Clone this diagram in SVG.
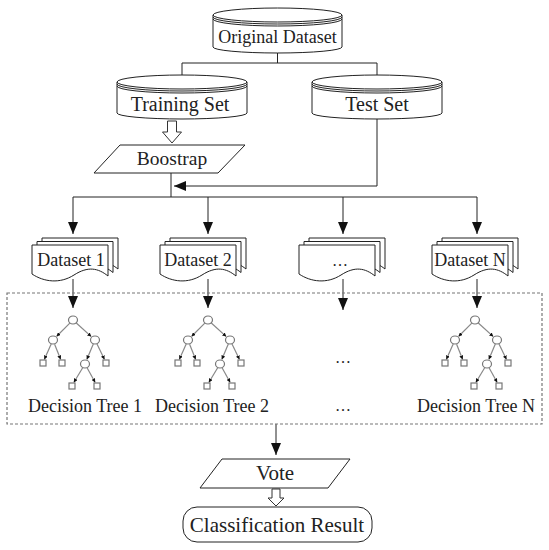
<svg xmlns="http://www.w3.org/2000/svg" xmlns:xlink="http://www.w3.org/1999/xlink" width="549" height="550" viewBox="0 0 549 550">
<style>
.sh{fill:#fff;stroke:#222;stroke-width:1}
.ln{fill:none;stroke:#222;stroke-width:1}
.ar{fill:none;stroke:#222;stroke-width:1;marker-end:url(#ah)}
.t{font-family:"Liberation Serif","Times New Roman",serif;fill:#222;text-anchor:middle}
.tn{fill:#fff;stroke:#777;stroke-width:1.2}
.te{fill:none;stroke:#888;stroke-width:1.2;marker-end:url(#sa)}
.hol{fill:#fff;stroke:#333;stroke-width:1}
</style>
<defs>
<marker id="ah" markerUnits="userSpaceOnUse" markerWidth="12" markerHeight="10" refX="12" refY="5" orient="auto">
<path d="M0,0 L12,5 L0,10 Z" fill="#111"/>
</marker>
<marker id="sa" markerUnits="userSpaceOnUse" markerWidth="4" markerHeight="4" refX="4" refY="2" orient="auto">
<path d="M0,0 L4,2 L0,4 Z" fill="#111"/>
</marker>
<path id="doc" d="M0,0 H76 V31 C66,23 56,21 42,30 C28,39 12,37 0,29 Z"/>
<g id="tree">
<path class="te" d="M-3.2,3.2 L-16.5,16.5"/>
<path class="te" d="M3.3,3 L18.3,16.6"/>
<path class="te" d="M-21.8,24.1 L-28.7,39.5"/>
<path class="te" d="M-18.4,24.2 L-12.3,39.5"/>
<path class="te" d="M20.3,24.1 L13.8,39.5"/>
<path class="te" d="M24,24.1 L31.5,39.5"/>
<path class="te" d="M9.7,47.8 L0.8,62.5"/>
<path class="te" d="M14.2,48 L22.2,62.5"/>
<ellipse class="tn" cx="0" cy="0" rx="4.5" ry="4"/>
<ellipse class="tn" cx="-20" cy="20" rx="4.5" ry="4"/>
<ellipse class="tn" cx="22" cy="20" rx="4.5" ry="4"/>
<ellipse class="tn" cx="12" cy="44" rx="4.5" ry="4"/>
<rect class="tn" x="-33" y="40" width="6" height="6"/>
<rect class="tn" x="-14" y="40" width="6" height="6"/>
<rect class="tn" x="30" y="40" width="6" height="6"/>
<rect class="tn" x="-4" y="63" width="6" height="6"/>
<rect class="tn" x="21" y="63" width="6" height="6"/>
</g>
</defs>

<g id="connectors">
<path class="ln" d="M277.5,53 V63 M182,63 H377 M182,63 V75 M377,63 V75"/>
<path class="ar" d="M377,119 V186 H174"/>
<path class="ln" d="M171,173 V197 M73,197 H477"/>
<path class="ar" d="M73,197 V234"/>
<path class="ar" d="M208,197 V234"/>
<path class="ar" d="M343,197 V234"/>
<path class="ar" d="M477,197 V234"/>
<path class="ar" d="M73,279 V308"/>
<path class="ar" d="M208,279 V308"/>
<path class="ar" d="M343,279 V310"/>
<path class="ar" d="M477,279 V308"/>
<path class="ar" d="M276,424 V455"/>
<path class="hol" d="M167.5,121 H176.5 V132 H181.5 L172,143 L162.5,132 H167.5 Z"/>
<path class="hol" d="M272,489 H280 V498 H284 L276,506 L268,498 H272 Z"/>
</g>

<g id="original-dataset">
<path class="sh" d="M213,15 V47 A64.5,6 0 0 0 342,47 V15 Z"/>
<ellipse class="sh" cx="277.5" cy="15" rx="64.5" ry="7"/>
<path class="ln" d="M213,17 A64.5,7 0 0 0 342,17 M213,19 A64.5,7 0 0 0 342,19"/>
<text class="t" x="277.5" y="43" font-size="18">Original Dataset</text>
</g>

<g id="training-set">
<path class="sh" d="M117,82 V113 A65,6 0 0 0 247,113 V82 Z"/>
<ellipse class="sh" cx="182" cy="82" rx="65" ry="7"/>
<path class="ln" d="M117,84 A65,7 0 0 0 247,84 M117,86 A65,7 0 0 0 247,86"/>
<text class="t" x="180" y="111" font-size="20">Training Set</text>
</g>

<g id="test-set">
<path class="sh" d="M312,82 V113 A65,6 0 0 0 442,113 V82 Z"/>
<ellipse class="sh" cx="377" cy="82" rx="65" ry="7"/>
<path class="ln" d="M312,84 A65,7 0 0 0 442,84 M312,86 A65,7 0 0 0 442,86"/>
<text class="t" x="377" y="111" font-size="20">Test Set</text>
</g>

<g id="boostrap">
<path class="sh" d="M120,145 H245 L218,173 H94 Z"/>
<text class="t" x="172" y="165" font-size="19.5">Boostrap</text>
</g>

<g id="dataset-1">
<use href="#doc" xlink:href="#doc" class="sh" x="42" y="238"/>
<use href="#doc" xlink:href="#doc" class="sh" x="37" y="241.5"/>
<use href="#doc" xlink:href="#doc" class="sh" x="32" y="245"/>
<text class="t" x="71" y="266" font-size="18">Dataset 1</text>
</g>
<g id="dataset-2">
<use href="#doc" xlink:href="#doc" class="sh" x="170" y="238"/>
<use href="#doc" xlink:href="#doc" class="sh" x="165" y="241.5"/>
<use href="#doc" xlink:href="#doc" class="sh" x="160" y="245"/>
<text class="t" x="198" y="266" font-size="18">Dataset 2</text>
</g>
<g id="dataset-dots">
<use href="#doc" xlink:href="#doc" class="sh" x="309" y="238"/>
<use href="#doc" xlink:href="#doc" class="sh" x="304" y="241.5"/>
<use href="#doc" xlink:href="#doc" class="sh" x="299" y="245"/>
<text class="t" x="340" y="266" font-size="16">…</text>
</g>
<g id="dataset-n">
<use href="#doc" xlink:href="#doc" class="sh" x="442" y="238"/>
<use href="#doc" xlink:href="#doc" class="sh" x="437" y="241.5"/>
<use href="#doc" xlink:href="#doc" class="sh" x="432" y="245"/>
<text class="t" x="470" y="266" font-size="18">Dataset N</text>
</g>

<g id="forest">
<rect x="7" y="293" width="535" height="131" fill="none" stroke="#777" stroke-width="1.2" stroke-dasharray="3,2"/>
</g>
<g id="tree-1">
<use href="#tree" xlink:href="#tree" x="73" y="320"/>
<text class="t" x="85" y="412" font-size="18">Decision Tree 1</text>
</g>
<g id="tree-2">
<use href="#tree" xlink:href="#tree" x="208" y="320"/>
<text class="t" x="212" y="412" font-size="18">Decision Tree 2</text>
</g>
<g id="tree-dots">
<text class="t" x="343" y="363" font-size="16">…</text>
<text class="t" x="343" y="411" font-size="16">…</text>
</g>
<g id="tree-n">
<use href="#tree" xlink:href="#tree" x="475" y="320"/>
<text class="t" x="476" y="412" font-size="18">Decision Tree N</text>
</g>

<g id="vote">
<path class="sh" d="M222,459 H350 L328,488 H200 Z"/>
<text class="t" x="275" y="480" font-size="21">Vote</text>
</g>

<g id="classification-result">
<rect class="sh" x="183" y="507" width="189" height="35" rx="14"/>
<text class="t" x="277" y="532" font-size="21">Classification Result</text>
</g>
</svg>
